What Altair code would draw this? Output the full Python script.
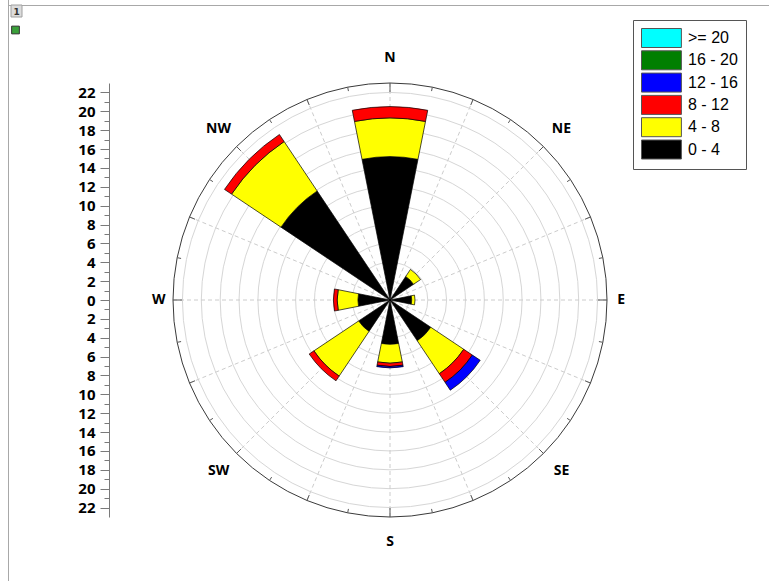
import math
import pandas as pd
import altair as alt

# ---- wind rose data: frequency (%) per direction and speed class ----
directions = ["N", "NE", "E", "SE", "S", "SW", "W", "NW"]
bearings = [0, 45, 90, 135, 180, 225, 270, 315]
speed_bins = ["0 - 4", "4 - 8", "8 - 12", "12 - 16", "16 - 20", ">= 20"]
freq_0_4 = [15.2, 3.0, 2.3, 5.2, 4.7, 4.0, 3.4, 13.9]
freq_4_8 = [4.1, 0.9, 0.35, 4.2, 2.0, 5.7, 2.2, 6.3]
freq_8_12 = [1.2, 0.0, 0.0, 1.1, 0.35, 0.6, 0.4, 0.9]
freq_12_16 = [0.0, 0.0, 0.0, 1.0, 0.15, 0.0, 0.0, 0.0]
freq_16_20 = [0.0, 0.0, 0.0, 0.0, 0.0, 0.0, 0.0, 0.0]
freq_20_up = [0.0, 0.0, 0.0, 0.0, 0.0, 0.0, 0.0, 0.0]
bin_colors = ["#000000", "#FFFF00", "#FF0000", "#0000FF", "#007F00", "#00FFFF"]
ring_values = list(range(2, 23, 2))
compass_labels = ["N", "NE", "E", "SE", "S", "SW", "W", "NW"]
compass_bearings = [0, 45, 90, 135, 180, 225, 270, 315]

R_MAX = 23
SECTOR = 22.5
SIZE = 434                     # plot area (square), circle fills it
PX = (SIZE / 2) / R_MAX        # pixels per radial unit

# stacked segments: each speed class sits on top of the slower ones
series = [freq_0_4, freq_4_8, freq_8_12, freq_12_16, freq_16_20, freq_20_up]
rows = []
for i, d in enumerate(directions):
    base = 0.0
    for b, vals in zip(speed_bins, series):
        v = vals[i]
        if v > 0:
            rows.append({"dir": d, "bin": b,
                         "a0": bearings[i] - SECTOR / 2, "a1": bearings[i] + SECTOR / 2,
                         "r0": base, "r1": base + v})
            base += v
segments = pd.DataFrame(rows)

legend_order = speed_bins[::-1]
legend_colors = bin_colors[::-1]

rad = alt.Scale(type="linear", domain=[0, R_MAX], range=[0, SIZE / 2], nice=False)
ang = alt.Scale(type="linear", domain=[0, 360], range=[0, 2 * math.pi], nice=False)
xs = alt.Scale(domain=[-R_MAX, R_MAX], nice=False, zero=False)
ys = alt.Scale(domain=[-R_MAX, R_MAX], nice=False, zero=False)

# left radial scale, mirrored above and below the centre
yaxis = alt.Axis(
    values=list(range(-22, 23)),
    labelExpr="abs(datum.value) % 2 == 0 ? '' + abs(datum.value) : ''",
    tickSize={"condition": {"test": "abs(datum.value) % 2 == 0", "value": 9}, "value": 5},
    offset=64, domainColor="#7a7a7a", tickColor="#7a7a7a", domainWidth=1, tickWidth=1,
    labelFont="Open Sans", labelFontWeight="bold", labelFontSize=15, labelColor="black",
    labelPadding=5, labelOverlap=False, labelFlush=False, grid=False, title=None,
)

one = pd.DataFrame({"k": [0]})

rings = alt.Chart(pd.DataFrame({"r": ring_values})).mark_arc(
    theta=0, theta2=2 * math.pi, filled=False, stroke="#d6d6d6", strokeWidth=1
).encode(radius=alt.Radius("r:Q", scale=rad, stack=False))

spokes = alt.Chart(pd.DataFrame({"a": [i * 22.5 for i in range(16)]})).transform_calculate(
    x=f"{R_MAX} * sin(datum.a * PI / 180)",
    y=f"{R_MAX} * cos(datum.a * PI / 180)",
).mark_rule(color="#cccccc", strokeDash=[4, 3], strokeWidth=1).encode(
    x=alt.X("x:Q", scale=xs, axis=None),
    y=alt.Y("y:Q", scale=ys, axis=yaxis),
    x2=alt.X2(datum=0),
    y2=alt.Y2(datum=0),
)

outer = alt.Chart(pd.DataFrame({"r": [R_MAX]})).mark_arc(
    theta=0, theta2=2 * math.pi, filled=False, stroke="#3a3a3a", strokeWidth=1
).encode(radius=alt.Radius("r:Q", scale=rad, stack=False))

# inward ticks on the outer ring
tick_angles = [i * 11.25 for i in range(32)]
tick_len = [(9 if a % 90 == 0 else 6 if a % 22.5 == 0 else 4) / PX for a in tick_angles]
ticks = alt.Chart(pd.DataFrame({"a": tick_angles, "len": tick_len})).transform_calculate(
    x=f"{R_MAX} * sin(datum.a * PI / 180)",
    y=f"{R_MAX} * cos(datum.a * PI / 180)",
    xi=f"({R_MAX} - datum.len) * sin(datum.a * PI / 180)",
    yi=f"({R_MAX} - datum.len) * cos(datum.a * PI / 180)",
).mark_rule(color="#555555", strokeWidth=1).encode(
    x=alt.X("x:Q", scale=xs, axis=None),
    y=alt.Y("y:Q", scale=ys, axis=yaxis),
    x2="xi:Q", y2="yi:Q",
)

sectors = alt.Chart(segments).mark_arc(stroke="#000000", strokeWidth=0.7).encode(
    theta=alt.Theta("a0:Q", scale=ang, stack=False),
    theta2="a1:Q",
    radius=alt.Radius("r1:Q", scale=rad, stack=False),
    radius2="r0:Q",
    color=alt.Color(
        "bin:N",
        scale=alt.Scale(domain=legend_order, range=legend_colors),
        legend=alt.Legend(
            orient="none", legendX=460, legendY=-63, title=None,
            symbolType="M-1,-1H3.2V1H-1Z", symbolSize=361,
            symbolStrokeColor="#555555", symbolStrokeWidth=1, symbolOpacity=1,
            labelFont="Liberation Sans", labelFontSize=16, labelColor="black",
            labelOffset=27, padding=8, rowPadding=-1.7,
            strokeColor="#555555", fillColor="white", cornerRadius=0,
        ),
    ),
)

compass = pd.DataFrame({"label": compass_labels, "a": compass_bearings})


def compass_text(dist, test):
    return alt.Chart(compass).transform_filter(test).transform_calculate(
        x=f"{dist} * sin(datum.a * PI / 180)",
        y=f"{dist} * cos(datum.a * PI / 180)",
    ).mark_text(font="Open Sans", fontWeight="bold", fontSize=14, color="black",
                align="center", baseline="middle").encode(
        x=alt.X("x:Q", scale=xs, axis=None),
        y=alt.Y("y:Q", scale=ys, axis=yaxis),
        text="label:N",
    )


labels_h = compass_text(24.5, "datum.a == 90 || datum.a == 270")
labels_o = compass_text(25.7, "datum.a != 90 && datum.a != 270")

# window frame decorations
frame_v = alt.Chart(one).mark_rule(color="#a8a8a8").encode(
    x=alt.value(-164.5), y=alt.value(-83), y2=alt.value(498))
frame_h = alt.Chart(one).mark_rule(color="#a8a8a8").encode(
    x=alt.value(-164.5), x2=alt.value(596), y=alt.value(-77.5))
tab = alt.Chart(one).mark_rect(fill="#dcdcdc", stroke="#a0a0a0", strokeWidth=1).encode(
    x=alt.value(-162), x2=alt.value(-151), y=alt.value(-78), y2=alt.value(-66))
tab_text = alt.Chart(one).mark_text(text="1", fontSize=9, fontWeight="bold",
                                    font="DejaVu Sans", color="#333333").encode(
    x=alt.value(-156.5), y=alt.value(-71.5))
lock = alt.Chart(one).mark_point(shape="square", size=60, filled=True, fill="#3aa03a",
                                 stroke="#333333", strokeWidth=1, opacity=1).encode(
    x=alt.value(-157.5), y=alt.value(-53))

chart = alt.layer(
    rings, spokes, outer, ticks, sectors, labels_h, labels_o,
    frame_v, frame_h, tab, tab_text, lock,
).properties(
    width=SIZE, height=SIZE,
    autosize="none",
    padding={"left": 173, "top": 83, "right": 769 - 173 - SIZE, "bottom": 581 - 83 - SIZE},
    background="white",
).configure_view(stroke="transparent")

chart.save("out.html", embed_options={"renderer": "svg", "actions": False})
